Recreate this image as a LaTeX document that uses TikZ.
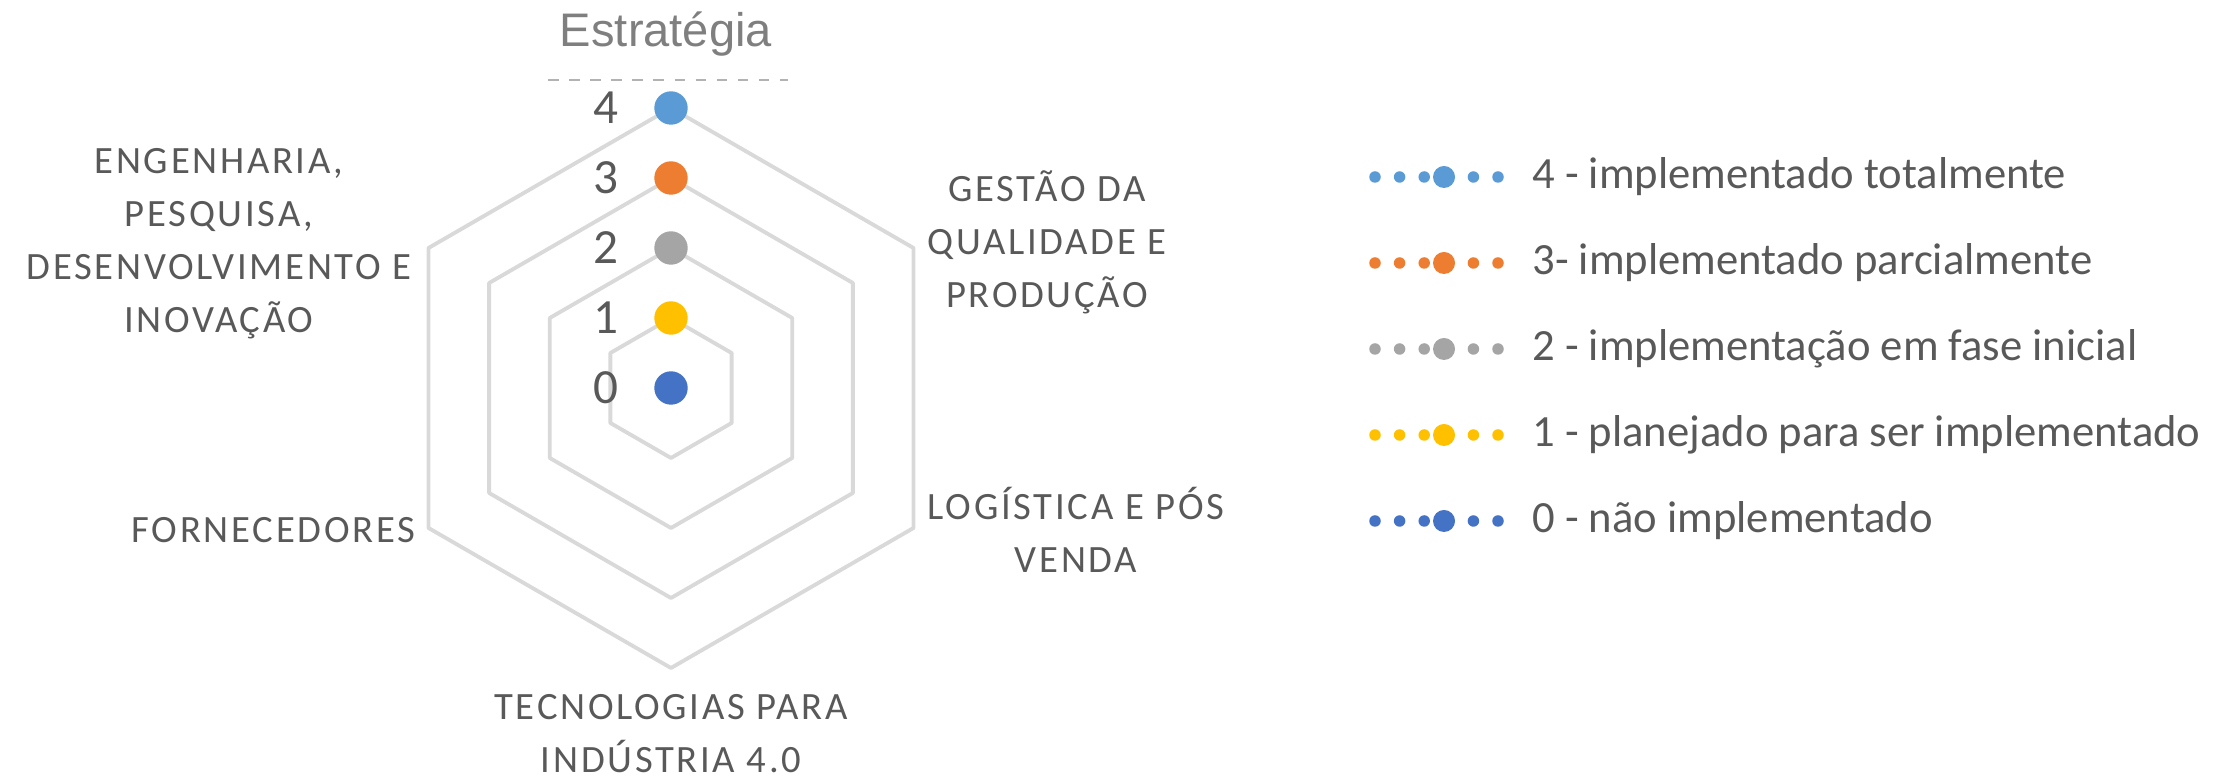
\documentclass[tikz,border=0pt]{standalone}
\usepackage{fontspec}
\setmainfont{Carlito}
\newfontfamily\catfont[LetterSpace=7]{Carlito}
\newfontfamily\titlefont{Liberation Sans}
\usetikzlibrary{positioning}
\pgfdeclarelayer{background}
\pgfsetlayers{background,main}
\definecolor{gridgray}{HTML}{D9D9D9}
\definecolor{labelgray}{HTML}{595959}
\definecolor{titlegray}{HTML}{7F7F7F}
\definecolor{lvlfour}{HTML}{5B9BD5}
\definecolor{lvlthree}{HTML}{ED7D31}
\definecolor{lvltwo}{HTML}{A5A5A5}
\definecolor{lvlone}{HTML}{FFC000}
\definecolor{lvlzero}{HTML}{4472C4}
\tikzstyle{webline}   = [draw=gridgray, line width=1.1pt, line join=round]
\tikzstyle{catlabel}  = [text=labelgray, align=center, inner sep=0pt, font=\catfont\fontsize{11}{15.1}\selectfont]
\tikzstyle{ptdot}     = [circle, inner sep=0pt, minimum size=0.334cm]
\tikzstyle{ticklabel} = [text=labelgray, inner sep=0pt, font=\fontsize{14}{17}\selectfont]
\tikzstyle{legdot}    = [circle, inner sep=0pt, minimum size=0.22cm]
\tikzstyle{legline}   = [line width=0.115cm, line cap=round, dash pattern=on 0pt off 0.246cm]
\tikzstyle{legtext}   = [text=labelgray, inner sep=0pt, anchor=west, font=\fontsize{12.7}{15}\selectfont]

\begin{document}
\begin{tikzpicture}[node distance=0.7cm]
				\useasboundingbox (0,0) rectangle (22.28,7.77);
				\begin{pgfonlayer}{background}
				% radar web
				\draw [webline, shift={(6.71,3.89)}] (90:0.7) -- (30:0.7) -- (-30:0.7) -- (-90:0.7) -- (-150:0.7) -- (150:0.7) -- cycle;
				\draw [webline, shift={(6.71,3.89)}] (90:1.4) -- (30:1.4) -- (-30:1.4) -- (-90:1.4) -- (-150:1.4) -- (150:1.4) -- cycle;
				\draw [webline, shift={(6.71,3.89)}] (90:2.1) -- (30:2.1) -- (-30:2.1) -- (-90:2.1) -- (-150:2.1) -- (150:2.1) -- cycle;
				\draw [webline, shift={(6.71,3.89)}] (90:2.8) -- (30:2.8) -- (-30:2.8) -- (-90:2.8) -- (-150:2.8) -- (150:2.8) -- cycle;
				\end{pgfonlayer}

				\begin{pgfonlayer}{main}
				\node (title) [font=\titlefont\fontsize{13.4}{16}\selectfont, text=titlegray, anchor=base] at (6.66,7.30) {Estratégia};
				\draw [titlegray!60, dashed, line width=0.5pt] (5.48,6.97) -- (7.88,6.97);

				% points on the axis
				\node (p4) [ptdot, fill=lvlfour] at (6.71,6.69) {};
				\node (p3) [ptdot, fill=lvlthree, below of=p4] {};
				\node (p2) [ptdot, fill=lvltwo, below of=p3] {};
				\node (p1) [ptdot, fill=lvlone, below of=p2] {};
				\node (p0) [ptdot, fill=lvlzero, below of=p1] {};
				\node (t4) [ticklabel, left of=p4, node distance=0.65cm] {4};
				\node (t3) [ticklabel, left of=p3, node distance=0.65cm] {3};
				\node (t2) [ticklabel, left of=p2, node distance=0.65cm] {2};
				\node (t1) [ticklabel, left of=p1, node distance=0.65cm] {1};
				\node (t0) [ticklabel, left of=p0, node distance=0.65cm] {0};

				% categories
				\node (gest) [catlabel] at (10.47,5.35) {GESTÃO DA\\QUALIDADE E\\PRODUÇÃO};
				\node (logi) [catlabel] at (10.76,2.47) {LOGÍSTICA E PÓS\\VENDA};
				\node (tecn) [catlabel] at (6.71,0.435) {TECNOLOGIAS PARA\\INDÚSTRIA 4.0};
				\node (forn) [catlabel] at (2.735,2.47) {FORNECEDORES};
				\node (enge) [catlabel] at (2.19,5.33) {ENGENHARIA,\\PESQUISA,\\DESENVOLVIMENTO E\\INOVAÇÃO};

				% legend
				\node (m4) [legdot, fill=lvlfour] at (14.44,6.00) {};
				\node (m3) [legdot, fill=lvlthree, below of=m4, node distance=0.86cm] {};
				\node (m2) [legdot, fill=lvltwo, below of=m3, node distance=0.86cm] {};
				\node (m1) [legdot, fill=lvlone, below of=m2, node distance=0.86cm] {};
				\node (m0) [legdot, fill=lvlzero, below of=m1, node distance=0.86cm] {};
				\node (l4) [legtext, right=0.76cm of m4] {4 - implementado totalmente};
				\node (l3) [legtext, right=0.76cm of m3] {3- implementado parcialmente};
				\node (l2) [legtext, right=0.76cm of m2] {2 - implementação em fase inicial};
				\node (l1) [legtext, right=0.76cm of m1] {1 - planejado para ser implementado};
				\node (l0) [legtext, right=0.76cm of m0] {0 - não implementado};
				\end{pgfonlayer}

				\begin{pgfonlayer}{background}
				\draw [legline, draw=lvlfour] (m4.center) ++(-0.69,0) -- ++(1.24,0);
				\draw [legline, draw=lvlthree] (m3.center) ++(-0.69,0) -- ++(1.24,0);
				\draw [legline, draw=lvltwo] (m2.center) ++(-0.69,0) -- ++(1.24,0);
				\draw [legline, draw=lvlone] (m1.center) ++(-0.69,0) -- ++(1.24,0);
				\draw [legline, draw=lvlzero] (m0.center) ++(-0.69,0) -- ++(1.24,0);
				\end{pgfonlayer}
\end{tikzpicture}
\end{document}
